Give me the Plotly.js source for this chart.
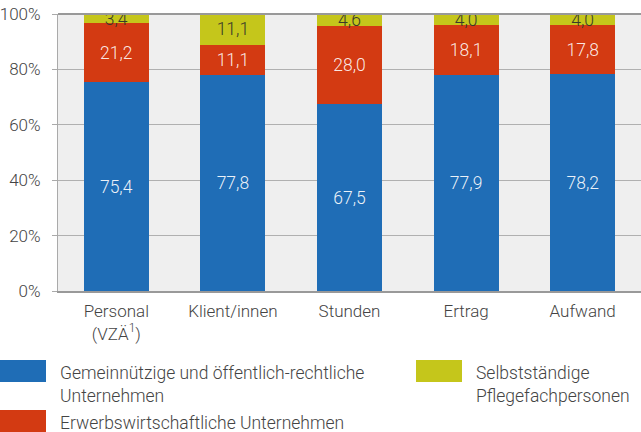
<!DOCTYPE html>
<html>
<head>
<meta charset="utf-8">
<script src="https://cdn.plot.ly/plotly-3.0.1.min.js"></script>
<style>html,body{margin:0;padding:0;background:#fff;}#chart{width:641px;height:432px;}</style>
</head>
<body>
<div id="chart"></div>
<script>
var categories = ["Personal<br>(VZÄ<sup>1</sup>)", "Klient/innen", "Stunden", "Ertrag", "Aufwand"];
var gemeinnuetzig = [75.4, 77.8, 67.5, 77.9, 78.2];
var erwerbs = [21.2, 11.1, 28.0, 18.1, 17.8];
var selbst = [3.4, 11.1, 4.6, 4.0, 4.0];
var seriesNames = ["Gemeinnützige und öffentlich-rechtliche\nUnternehmen", "Erwerbswirtschaftliche Unternehmen", "Selbstständige\nPflegefachpersonen"];
var colors = ["#1f6db6", "#d33a12", "#c5c61b"];
var textColors = ["rgba(255,255,255,0.92)", "rgba(255,255,255,0.9)", "#3a3a2a"];
var yTicks = [0, 20, 40, 60, 80, 100];

var FONT = "Roboto, 'Open Sans', sans-serif";
var FW = 300;
var values = [gemeinnuetzig, erwerbs, selbst];
var traces = values.map(function (v, i) {
  return {
    type: "bar",
    x: categories,
    y: v,
    name: seriesNames[i].replace("\n", " "),
    marker: {color: colors[i], line: {width: 0}},
    texttemplate: "%{y:.1f}",
    textposition: "inside",
    insidetextanchor: "middle",
    constraintext: "none",
    textangle: 0,
    insidetextfont: {family: FONT, size: 17.5, weight: FW, color: textColors[i]},
    cliponaxis: true,
    hoverinfo: "skip"
  };
});

var L = 58, T = 14, W = 583, H = 277;
function px(x) { return (x - L) / W; }
function py(y) { return (T + H - y) / H; }

var legendPos = [
  {sx: 0, sy: 360, tx: 58, ty: 373},
  {sx: 0, sy: 410, tx: 58, ty: 423},
  {sx: 416, sy: 360, tx: 474, ty: 373}
];
var shapes = [], annotations = [];
seriesNames.forEach(function (n, i) {
  var p = legendPos[i];
  shapes.push({type: "rect", xref: "paper", yref: "paper",
    x0: px(p.sx), x1: px(p.sx + 46), y0: py(p.sy), y1: py(p.sy + 22),
    fillcolor: colors[i], line: {width: 0}});
  n.split("\n").forEach(function (line, j) {
    annotations.push({xref: "paper", yref: "paper", x: px(p.tx), y: py(p.ty + j * 22.5),
      xanchor: "left", yanchor: "middle", showarrow: false, text: line,
      font: {family: FONT, size: 17.5, weight: FW, color: "#444"}});
  });
});

var layout = {
  width: 641, height: 432,
  margin: {l: L, r: 0, t: T, b: 432 - T - H, pad: 0},
  paper_bgcolor: "#ffffff",
  plot_bgcolor: "#efefef",
  barmode: "stack",
  bargap: 0.444,
  separators: ",.",
  showlegend: false,
  font: {family: FONT, size: 17, weight: FW, color: "#444"},
  xaxis: {
    type: "category",
    showgrid: false,
    showline: true, linecolor: "#999", linewidth: 2,
    ticks: "",
    ticklabelstandoff: 4,
    tickfont: {family: FONT, size: 17, weight: FW, color: "#444"},
    fixedrange: true
  },
  yaxis: {
    range: [0, 100],
    tickvals: yTicks,
    ticktext: yTicks.map(function (t) { return t + "%"; }),
    showgrid: true, gridcolor: "#b0b0b0", gridwidth: 1,
    zeroline: false,
    showline: true, linecolor: "#aaa", linewidth: 1,
    ticks: "outside", ticklen: 5, tickcolor: "#aaa",
    ticklabelstandoff: 8,
    tickfont: {family: FONT, size: 17, weight: FW, color: "#444"},
    fixedrange: true
  },
  shapes: shapes.concat([{type: "line", xref: "paper", yref: "paper", x0: 0, x1: 1, y0: 1, y1: 1,
    line: {color: "#999", width: 2}}]),
  annotations: annotations
};

Plotly.newPlot("chart", traces, layout, {displayModeBar: false, staticPlot: true});
</script>
</body>
</html>
